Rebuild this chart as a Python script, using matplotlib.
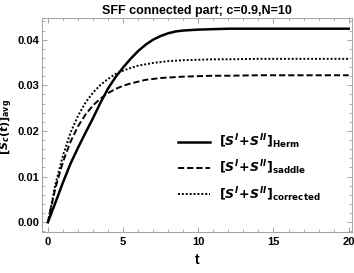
import numpy as np
import matplotlib
matplotlib.use("Agg")
import matplotlib.pyplot as plt
from matplotlib.ticker import MultipleLocator, FormatStrFormatter

# values
t = [0, 0.5, 1, 1.5, 2, 2.5, 3, 3.5, 4, 4.5, 5, 5.5, 6, 6.5, 7, 7.5, 8,
     8.5, 9, 10, 11, 12, 14, 16, 18, 20]
s_herm = [0, 0.0043, 0.0087, 0.0128, 0.0163, 0.0196, 0.0228, 0.0262, 0.0293,
          0.0318, 0.0339, 0.0358, 0.0375, 0.0389, 0.0400, 0.0408, 0.0414,
          0.0418, 0.0420, 0.0422, 0.0423, 0.0424, 0.0424, 0.0424, 0.0424, 0.0424]
s_saddle = [0, 0.0075, 0.0132, 0.0176, 0.0210, 0.0236, 0.0256, 0.0271, 0.0283,
            0.0292, 0.0299, 0.0304, 0.0308, 0.0312, 0.0314, 0.0316, 0.0317,
            0.0318, 0.0319, 0.0320, 0.0321, 0.0321, 0.0322, 0.0322, 0.0322, 0.0322]
s_corr = [0, 0.0083, 0.0146, 0.0196, 0.0233, 0.0262, 0.0284, 0.0301, 0.0314,
          0.0325, 0.0332, 0.0338, 0.0343, 0.0346, 0.0349, 0.0351, 0.0353,
          0.0354, 0.0355, 0.0356, 0.0357, 0.0357, 0.0358, 0.0358, 0.0358, 0.0358]
labels = [r"$[S^{I}\!+\!S^{II}]_{\mathrm{Herm}}$",
          r"$[S^{I}\!+\!S^{II}]_{\mathrm{saddle}}$",
          r"$[S^{I}\!+\!S^{II}]_{\mathrm{corrected}}$"]

fam = ["Liberation Sans Narrow", "Liberation Sans", "DejaVu Sans"]
plt.rcParams["font.family"] = fam
plt.rcParams["font.weight"] = "bold"
plt.rcParams["mathtext.fontset"] = "custom"
plt.rcParams["mathtext.rm"] = "Liberation Sans Narrow:bold"
plt.rcParams["mathtext.it"] = "Liberation Sans Narrow:italic:bold"
plt.rcParams["mathtext.bf"] = "Liberation Sans Narrow:bold"

fig = plt.figure(figsize=(3.54, 2.73), dpi=100)
ax = fig.add_axes([0.1195, 0.149, 0.874, 0.786])

ax.plot(t, s_herm, color="black", lw=1.8, label=labels[0])
ax.plot(t, s_saddle, color="black", lw=1.4, linestyle=(0, (3.2, 1.5)), label=labels[1])
ax.plot(t, s_corr, color="black", lw=1.4, linestyle=(0, (1, 1)), label=labels[2])

ax.set_xlim(-0.37, 20.2)
ax.set_ylim(-0.0022, 0.0448)
ax.xaxis.set_major_locator(MultipleLocator(5))
ax.xaxis.set_minor_locator(MultipleLocator(1))
ax.yaxis.set_major_locator(MultipleLocator(0.01))
ax.yaxis.set_minor_locator(MultipleLocator(0.002))
ax.yaxis.set_major_formatter(FormatStrFormatter("%.2f"))

gray = "#a6a6a6"
for sp in ax.spines.values():
    sp.set_color(gray)
    sp.set_linewidth(0.8)
ax.tick_params(which="both", direction="in", top=True, right=True, color=gray,
               labelsize=8, pad=2)
ax.tick_params(axis="x", pad=3.5)
ax.tick_params(which="major", length=3.5, width=0.7)
ax.tick_params(which="minor", length=2, width=0.6)

ax.set_title("SFF connected part; c=0.9,N=10", fontsize=9, fontweight="bold", pad=3)
ax.set_xlabel("t", fontsize=10, fontweight="bold", labelpad=4)
ax.set_ylabel(r"$[S_{c}(t)]_{\mathrm{avg}}$", fontsize=8)
ax.yaxis.set_label_coords(-0.088, 0.49)

ax.legend(loc="upper left", bbox_to_anchor=(0.44, 0.465), frameon=False,
          fontsize=9, handlelength=2.5, handletextpad=0.75, labelspacing=0.6,
          borderpad=0, borderaxespad=0)

fig.savefig("out.png", dpi=100)
